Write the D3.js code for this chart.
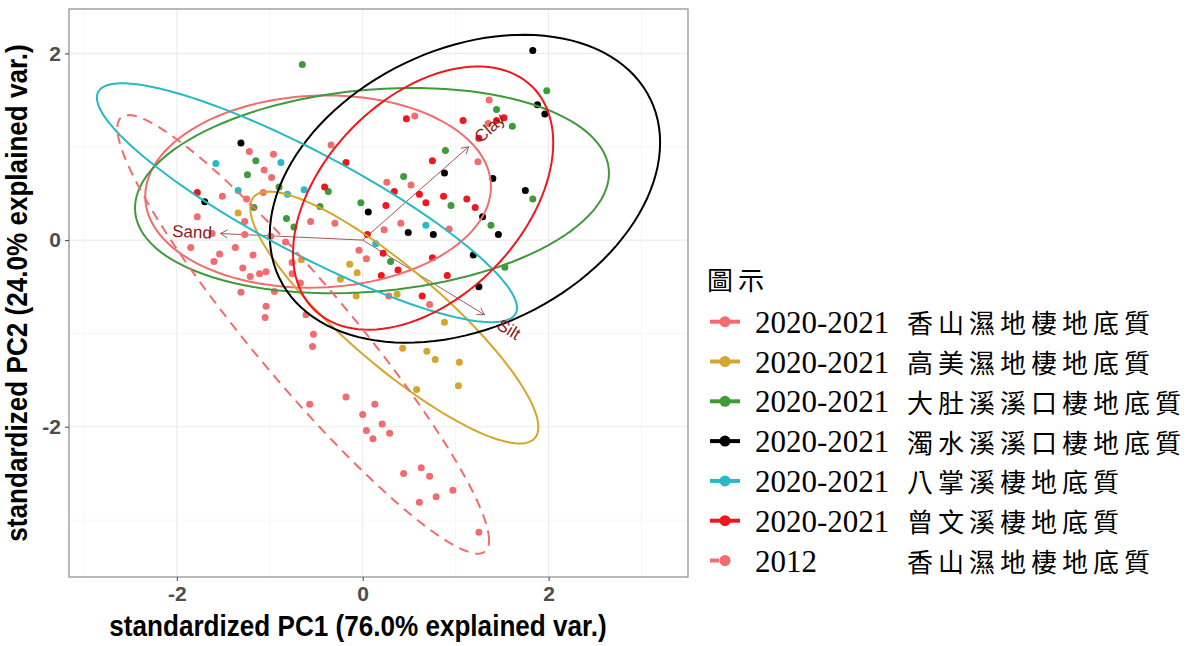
<!DOCTYPE html>
<html>
<head>
<meta charset="utf-8">
<script src="https://cdn.jsdelivr.net/npm/d3@7"></script>
<style>
    body { margin: 0; background: #fff; }
</style>
</head>
<body>
<div class="svg"></div>
<script>
// PCA scores per group [PC1, PC2]
var ptsXiangshan = [[-1.22,0.95],[-0.96,0.92],[-0.34,1.02],[-1.06,0.75],[-0.98,0.67],[-1.07,0.51],[-1.51,0.47],[-1.25,0.44],
    [-1.78,0.25],[-1.27,0.20],[-0.56,0.20],[-0.30,0.18],[-1.62,0.07],[-1.27,0.06],[-0.99,0.04],[-1.85,-0.08],[-1.37,-0.08],
    [-0.83,-0.02],[-1.54,-0.15],[-1.60,-0.23],[-1.18,-0.16],[-1.29,-0.30],[-1.21,-0.39],[-1.11,-0.36],[-1.04,-0.34],
    [-0.76,-0.24],[-0.76,-0.36],[-0.67,-0.46],[-0.04,-0.11],[0.04,-0.20],[0.23,0.11],[0.41,0.18],[0.26,0.62],[0.52,0.59],
    [0.93,0.12],[1.24,0.84],[0.56,1.33],[1.36,1.50],[1.35,1.25],[0.28,-0.60],[0.72,-0.69]];
var ptsGaomei = [[-1.34,0.29],[-0.66,-0.21],[-0.14,-0.26],[-0.06,-0.35],[-0.24,-0.42],[-0.07,-0.60],[0.37,-0.58],
    [0.88,-0.88],[0.43,-1.16],[0.69,-1.19],[0.78,-1.28],[1.04,-1.31],[0.58,-1.60],[1.03,-1.56]];
var ptsDadu = [[-0.65,1.88],[-1.15,0.85],[-1.24,0.70],[-0.90,0.57],[-0.37,0.52],[-1.17,0.35],[-0.46,0.36],[-0.02,0.40],
    [-0.82,0.23],[-0.74,0.14],[0.89,0.96],[0.44,0.68],[0.95,0.37],[1.83,0.44],[1.38,0.16],[0.30,-0.23],[1.53,-0.29],
    [1.44,1.40],[1.61,1.22],[1.98,1.60]];
var ptsZhuoshui = [[-1.31,1.04],[-1.70,0.41],[0.06,0.30],[0.49,0.08],[0.76,0.06],[0.88,0.72],[1.40,0.66],[1.75,0.53],
    [1.29,0.25],[1.46,0.06],[1.19,-0.16],[1.25,-0.50],[1.83,2.03],[1.88,1.45],[1.96,1.35]];
var ptsBazhang = [[-1.58,0.82],[-0.88,0.83],[-1.34,0.53],[-0.81,0.49],[-0.63,0.54],[0.68,0.16],[0.14,-0.04]];
var ptsZengwen = [[-0.18,0.83],[-0.41,0.57],[-1.78,0.51],[0.47,1.30],[1.08,1.28],[1.52,1.31],[1.44,1.28],[1.25,1.09],
    [0.75,0.85],[0.34,0.52],[0.61,0.49],[0.68,0.40],[0.87,0.47],[1.12,0.44],[1.21,0.35],[0.25,0.37],[0.05,0.06],
    [0.22,-0.14],[0.75,-0.19],[0.38,-0.32],[0.20,-0.38],[0.91,-0.38],[0.64,-0.60]];
var pts2012 = [[-1.31,-0.56],[-0.95,-0.55],[-1.04,-0.71],[-1.05,-0.83],[-0.61,-0.80],[-0.53,-1.01],[-0.54,-1.14],
    [-0.18,-1.68],[-0.57,-1.76],[0.13,-1.76],[0.00,-1.87],[0.04,-2.04],[0.11,-2.13],[0.21,-1.97],[0.29,-2.07],
    [0.44,-2.50],[0.63,-2.44],[0.72,-2.53],[0.97,-2.68],[0.79,-2.75],[0.61,-2.81],[1.25,-3.13]];

// normal-probability ellipses: centre, half extents, correlation
var ellCx = [-0.48, 0.34, 0.10, 1.10, -0.60, 0.65, -0.64];
var ellCy = [0.52, -0.83, 0.53, 0.55, 0.40, 0.45, -1.01];
var ellRx = [1.86, 1.55, 2.55, 2.10, 2.26, 1.40, 2.00];
var ellRy = [1.03, 1.35, 1.10, 1.65, 1.28, 1.41, 2.35];
var ellRho = [0.05, -0.87, 0.17, 0.30, -0.88, 0.42, -0.94];

var legendYears = ["2020-2021", "2020-2021", "2020-2021", "2020-2021", "2020-2021", "2020-2021", "2012"];
var legendSites = ["香山濕地棲地底質", "高美濕地棲地底質", "大肚溪溪口棲地底質", "濁水溪溪口棲地底質",
    "八掌溪棲地底質", "曾文溪棲地底質", "香山濕地棲地底質"];
var groupColors = ["#F26B6E", "#D4A62A", "#3E9B3A", "#000000", "#27B9C6", "#F0161E", "#F26B6E"];

// variable loadings
var varNames = ["Sand", "Clay", "Silt"];
var varPC1 = [-1.53, 1.14, 1.31];
var varPC2 = [0.07, 1.00, -0.80];

var xTicks = [-2, 0, 2];
var yTicks = [-2, 0, 2];
var xMinor = [-3, -1, 1, 3];
var yMinor = [-3, -1, 1];

var groupPoints = [ptsXiangshan, ptsGaomei, ptsDadu, ptsZhuoshui, ptsBazhang, ptsZengwen, pts2012];

var width = 1198, height = 646;
var panel = {left: 69, right: 688, top: 9, bottom: 577};

var x = d3.scaleLinear().domain([-3.16, 3.50]).range([panel.left, panel.right]);
var y = d3.scaleLinear().domain([-3.61, 2.476]).range([panel.bottom, panel.top]);

var svg = d3.select("div.svg").append("svg")
    .attr("width", width)
    .attr("height", height)
    .style("display", "block");

svg.append("rect").attr("width", width).attr("height", height).attr("fill", "#fff");

// grid
var grid = svg.append("g");
grid.selectAll("line.vminor").data(xMinor).enter().append("line")
    .attr("x1", x).attr("x2", x).attr("y1", panel.top).attr("y2", panel.bottom)
    .attr("stroke", "#F3F3F3").attr("stroke-width", 0.8);
grid.selectAll("line.hminor").data(yMinor).enter().append("line")
    .attr("y1", y).attr("y2", y).attr("x1", panel.left).attr("x2", panel.right)
    .attr("stroke", "#F3F3F3").attr("stroke-width", 0.8);
grid.selectAll("line.vmajor").data(xTicks).enter().append("line")
    .attr("x1", x).attr("x2", x).attr("y1", panel.top).attr("y2", panel.bottom)
    .attr("stroke", "#EBEBEB").attr("stroke-width", 1.1);
grid.selectAll("line.hmajor").data(yTicks).enter().append("line")
    .attr("y1", y).attr("y2", y).attr("x1", panel.left).attr("x2", panel.right)
    .attr("stroke", "#EBEBEB").attr("stroke-width", 1.1);

// arrows from origin (drawn under the points)
var arrowColor = "#A4575C";
var arrows = svg.append("g");
varNames.forEach(function (name, i) {
    var x0 = x(0), y0 = y(0), x1 = x(varPC1[i]), y1 = y(varPC2[i]);
    arrows.append("line").attr("x1", x0).attr("y1", y0).attr("x2", x1).attr("y2", y1)
        .attr("stroke", arrowColor).attr("stroke-width", 1);
    var a = Math.atan2(y1 - y0, x1 - x0), len = 8, spread = Math.PI / 6;
    arrows.append("path")
        .attr("d", "M" + (x1 - len * Math.cos(a - spread)) + "," + (y1 - len * Math.sin(a - spread)) +
            "L" + x1 + "," + y1 +
            "L" + (x1 - len * Math.cos(a + spread)) + "," + (y1 - len * Math.sin(a + spread)))
        .attr("fill", "none").attr("stroke", arrowColor).attr("stroke-width", 1);
});

// points
groupPoints.forEach(function (pts, g) {
    svg.append("g").selectAll("circle").data(pts).enter().append("circle")
        .attr("cx", function (d) { return x(d[0]); })
        .attr("cy", function (d) { return y(d[1]); })
        .attr("r", 3.5)
        .attr("fill", groupColors[g]);
});

// ellipses
var line = d3.line()
    .x(function (d) { return x(d[0]); })
    .y(function (d) { return y(d[1]); });
ellCx.forEach(function (cx, i) {
    var s = Math.sqrt(1 - ellRho[i] * ellRho[i]);
    var pts = d3.range(0, 121).map(function (k) {
        var t = k / 120 * 2 * Math.PI;
        return [cx + ellRx[i] * Math.cos(t), ellCy[i] + ellRy[i] * (ellRho[i] * Math.cos(t) + s * Math.sin(t))];
    });
    svg.append("path")
        .attr("d", line(pts) + "Z")
        .attr("fill", "none")
        .attr("stroke", groupColors[i])
        .attr("stroke-width", 2)
        .attr("stroke-dasharray", i === 6 ? "10,7" : null);
});

// variable labels
varNames.forEach(function (name, i) {
    var lx = x(varPC1[i] * 1.2), ly = y(varPC2[i] * 1.2);
    var ang = Math.atan((y(varPC2[i]) - y(0)) / (x(varPC1[i]) - x(0))) * 180 / Math.PI;
    svg.append("text")
        .attr("transform", "translate(" + lx + "," + ly + ") rotate(" + ang + ")")
        .attr("text-anchor", "middle")
        .attr("dominant-baseline", "central")
        .style("font-family", "Liberation Sans, Arial, sans-serif")
        .style("font-size", "17px")
        .attr("fill", "#8B1A1A")
        .text(name);
});

// panel border
svg.append("rect")
    .attr("x", panel.left).attr("y", panel.top)
    .attr("width", panel.right - panel.left).attr("height", panel.bottom - panel.top)
    .attr("fill", "none").attr("stroke", "#8A8A8A").attr("stroke-width", 1.2);

// axes
var tickFmt = function (d) { return String(d); };
var xAxis = svg.append("g")
    .attr("transform", "translate(0," + panel.bottom + ")")
    .call(d3.axisBottom(x).tickValues(xTicks).tickSize(4).tickFormat(tickFmt));
var yAxis = svg.append("g")
    .attr("transform", "translate(" + panel.left + ",0)")
    .call(d3.axisLeft(y).tickValues(yTicks).tickSize(4).tickFormat(tickFmt));
[xAxis, yAxis].forEach(function (ax) {
    ax.select(".domain").remove();
    ax.selectAll(".tick line").attr("stroke", "#444");
    ax.selectAll(".tick text")
        .attr("fill", "#4D4D4D")
        .style("font-family", "Liberation Sans, Arial, sans-serif")
        .style("font-size", "21px")
        .style("font-weight", "bold");
});
xAxis.selectAll(".tick text").attr("dy", "0.8em");
yAxis.selectAll(".tick text").attr("dx", "-0.05em");

svg.append("text")
    .attr("transform", "translate(358,636) scale(0.9,1)")
    .attr("text-anchor", "middle")
    .style("font-family", "Liberation Sans, Arial, sans-serif")
    .style("font-size", "29px").style("font-weight", "bold")
    .text("standardized PC1 (76.0% explained var.)");

svg.append("text")
    .attr("transform", "translate(27," + (panel.top + panel.bottom) / 2 + ") rotate(-90) scale(0.9,1)")
    .attr("text-anchor", "middle")
    .style("font-family", "Liberation Sans, Arial, sans-serif")
    .style("font-size", "29px").style("font-weight", "bold")
    .text("standardized PC2 (24.0% explained var.)");

// legend
var legend = svg.append("g");
legend.append("text")
    .attr("x", 707).attr("y", 278)
    .attr("dominant-baseline", "central")
    .style("font-family", "Noto Sans CJK TC, sans-serif")
    .style("font-size", "26px")
    .style("letter-spacing", "5px")
    .text("圖示");

legendYears.forEach(function (yr, i) {
    var cy = 321.7 + i * 39.8;
    legend.append("line")
        .attr("x1", 710).attr("x2", 740).attr("y1", cy).attr("y2", cy)
        .attr("stroke", groupColors[i]).attr("stroke-width", 4)
        .attr("stroke-dasharray", i === 6 ? "9,40" : null);
    legend.append("circle")
        .attr("cx", 725).attr("cy", cy).attr("r", 5.5)
        .attr("fill", groupColors[i]);
    legend.append("text")
        .attr("x", 755).attr("y", cy + 11)
        .style("font-family", "Liberation Serif, Times New Roman, serif")
        .style("font-size", "31px")
        .text(yr);
    legend.append("text")
        .attr("x", 907).attr("y", cy)
        .attr("dominant-baseline", "central")
        .style("font-family", "Noto Sans CJK TC, sans-serif")
        .style("font-size", "26px")
        .style("letter-spacing", "5px")
        .text(legendSites[i]);
});
</script>
</body>
</html>
